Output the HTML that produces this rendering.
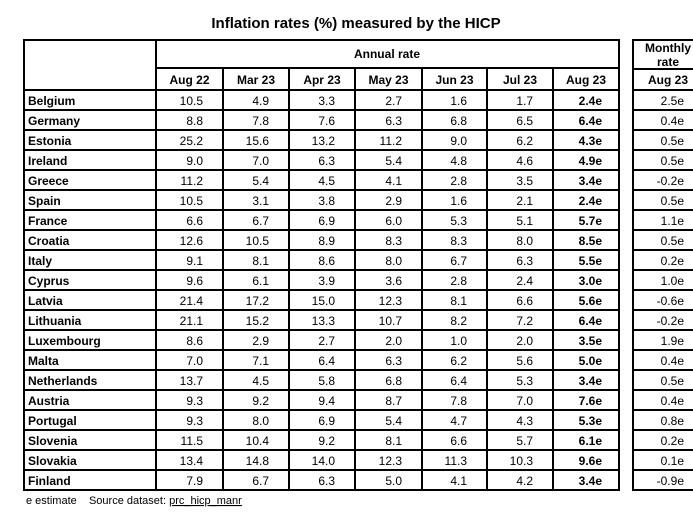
<!DOCTYPE html>
<html><head><meta charset="utf-8"><style>
body{margin:0;background:#fff;}
svg{display:block;font-family:"Liberation Sans",Arial,sans-serif;}
</style></head><body>
<svg id="t" width="693" height="512" viewBox="0 0 693 512" xmlns="http://www.w3.org/2000/svg">
<text x="356" y="28" text-anchor="middle" font-size="15" font-weight="bold">Inflation rates (%) measured by the HICP</text>
<g id="grid"></g>
<g id="txt"></g>
<text x="26" y="504" font-size="11">e estimate&#160;&#160;&#160; Source dataset: <tspan text-decoration="underline">prc_hicp_manr</tspan></text>
</svg>
<script>
const countries=["Belgium","Germany","Estonia","Ireland","Greece","Spain","France","Croatia","Italy","Cyprus","Latvia","Lithuania","Luxembourg","Malta","Netherlands","Austria","Portugal","Slovenia","Slovakia","Finland"];
const months=["Aug 22","Mar 23","Apr 23","May 23","Jun 23","Jul 23","Aug 23"];
const annual=[
["10.5","4.9","3.3","2.7","1.6","1.7","2.4e"],
["8.8","7.8","7.6","6.3","6.8","6.5","6.4e"],
["25.2","15.6","13.2","11.2","9.0","6.2","4.3e"],
["9.0","7.0","6.3","5.4","4.8","4.6","4.9e"],
["11.2","5.4","4.5","4.1","2.8","3.5","3.4e"],
["10.5","3.1","3.8","2.9","1.6","2.1","2.4e"],
["6.6","6.7","6.9","6.0","5.3","5.1","5.7e"],
["12.6","10.5","8.9","8.3","8.3","8.0","8.5e"],
["9.1","8.1","8.6","8.0","6.7","6.3","5.5e"],
["9.6","6.1","3.9","3.6","2.8","2.4","3.0e"],
["21.4","17.2","15.0","12.3","8.1","6.6","5.6e"],
["21.1","15.2","13.3","10.7","8.2","7.2","6.4e"],
["8.6","2.9","2.7","2.0","1.0","2.0","3.5e"],
["7.0","7.1","6.4","6.3","6.2","5.6","5.0e"],
["13.7","4.5","5.8","6.8","6.4","5.3","3.4e"],
["9.3","9.2","9.4","8.7","7.8","7.0","7.6e"],
["9.3","8.0","6.9","5.4","4.7","4.3","5.3e"],
["11.5","10.4","9.2","8.1","6.6","5.7","6.1e"],
["13.4","14.8","14.0","12.3","11.3","10.3","9.6e"],
["7.9","6.7","6.3","5.0","4.1","4.2","3.4e"]];
const monthly=["2.5e","0.4e","0.5e","0.5e","-0.2e","0.5e","1.1e","0.5e","0.2e","1.0e","-0.6e","-0.2e","1.9e","0.4e","0.5e","0.4e","0.8e","0.2e","0.1e","-0.9e"];
const NS="http://www.w3.org/2000/svg";
const gEl=document.getElementById('grid'),txEl=document.getElementById('txt');
const colX=[24,156,223,289,355,422,487,553,619];
const mL=633,mR=700;
const tY=40,hdr=90,rowH=20,botY=hdr+rowH*countries.length;
function line(x1,y1,x2,y2,w){
 const s=document.createElementNS(NS,'line');
 s.setAttribute('x1',x1);s.setAttribute('y1',y1);s.setAttribute('x2',x2);s.setAttribute('y2',y2);
 s.setAttribute('stroke','#000');s.setAttribute('stroke-width',w);
 
 
 gEl.appendChild(s);
}
function text(x,y,str,anchor,bold,name){
 const t=document.createElementNS(NS,'text');
 t.setAttribute('x',x);t.setAttribute('y',y);t.setAttribute('font-size','12');
 t.setAttribute('text-anchor',anchor);if(bold)t.setAttribute('font-weight','bold');
 t.textContent=str;
 
 
 txEl.appendChild(t);
}
line(24,tY,619,tY,2);line(24,botY,619,botY,2);
line(24,tY-1,24,botY+1,2);line(619,tY-1,619,botY+1,2);
line(156,tY,156,botY,2);
line(156,68,619,68,2);
for(let i=2;i<colX.length-1;i++)line(colX[i],68,colX[i],botY,2);
for(let r=0;r<countries.length;r++)line(24,hdr+r*rowH,619,hdr+r*rowH,2);
line(mL,tY,mR,tY,2);line(mL,tY-1,mL,botY+1,2);line(mL,69,mR,69,2);
for(let r=0;r<=countries.length;r++)line(mL,hdr+r*rowH,mR,hdr+r*rowH,2);
text(387,58,"Annual rate","middle",true,"annual-rate-header");
months.forEach((m,i)=>text((colX[i+1]+colX[i+2])/2,84,m,"middle",true,"column-header"));
text(668,52,"Monthly","middle",true,"monthly-rate-header");
text(668,66,"rate","middle",true,"monthly-rate-header");
text(668,84,"Aug 23","middle",true,"column-header");
countries.forEach((c,r)=>{
 const y=hdr+r*rowH+15;
 text(28,y,c,"start",true,"country-label");
 annual[r].forEach((v,i)=>{
  const last=i===annual[r].length-1;
  text(colX[i+2]-(last?17:20),y,v,"end",last,"annual-rate-value");
 });
 text(684,y,monthly[r],"end",false,"monthly-rate-value");
});
</script>
</body></html>
